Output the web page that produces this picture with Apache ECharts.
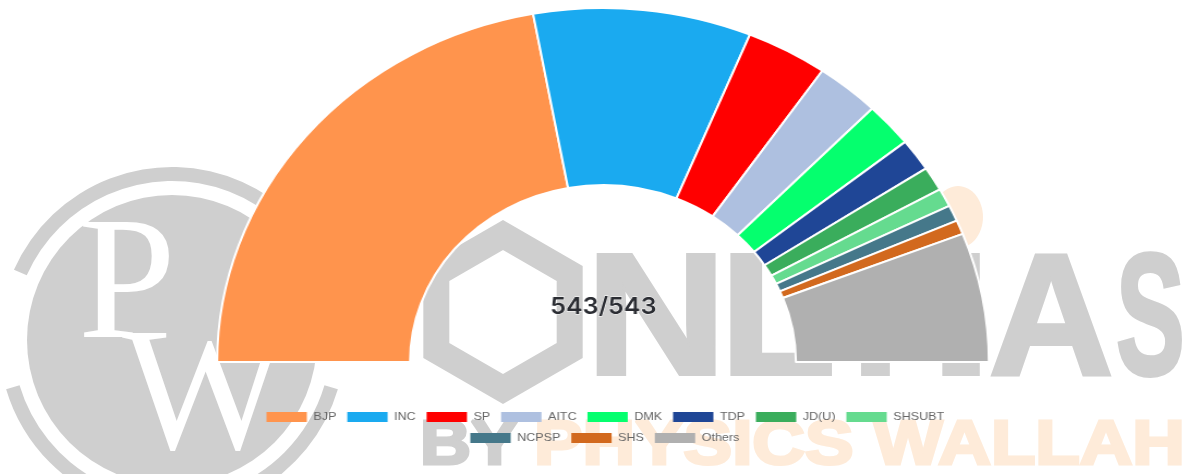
<!DOCTYPE html>
<html>
<head>
<meta charset="utf-8">
<script src="https://cdn.jsdelivr.net/npm/echarts@6/dist/echarts.min.js"></script>
<style>
html,body{margin:0;padding:0;background:#fff;overflow:hidden;}
#watermark{position:absolute;left:0;top:0;width:1192px;height:474px;}
/* the chart in the reference is stretched sideways, the watermark behind it is not */
#chart{position:absolute;left:0;top:0;width:1094px;height:474px;transform:scaleX(1.09);transform-origin:0 0;}
</style>
</head>
<body>
<div id="watermark"></div>
<div id="chart"></div>
<script>
const parties = ['BJP','INC','SP','AITC','DMK','TDP','JD(U)','SHSUBT','NCPSP','SHS','Others'];
const seats = [240,99,37,29,22,16,12,9,8,7,64];
const partyColors = ['#ff944d','#1aaaf0','#ff0000','#aec0e0','#05ff6e','#1f4696','#3aad5c','#65db8f','#45788a','#d2691e','#b0b0b0'];
const centerLabel = '543/543';

const grey = '#cfcfcf';
const peach = '#feebd9';
const deg = Math.PI / 180;

// big letters of the background logo
function mark(text, x, y, size, color, sx, heavy){
  return {type:'text', x:x, y:y, scaleX:sx || 1, silent:true, style:{
    text:text, fill:color, font:'bold ' + size + 'px "Liberation Sans"',
    textVerticalAlign:'bottom', stroke:color, lineWidth:heavy || 0
  }};
}

function hexagon(cx, cy, r){
  let pts = [];
  for(let i = 0; i < 6; i++){
    let a = (i * 60 - 90) * deg;
    pts.push([cx + r * Math.cos(a), cy + r * Math.sin(a)]);
  }
  return pts;
}

const backdrop = [
  {type:'circle', silent:true, shape:{cx:172,cy:340,r:145}, style:{fill:grey}},
  {type:'sector', silent:true, shape:{cx:172,cy:340,r0:159,r:173,startAngle:204*deg,endAngle:336*deg}, style:{fill:grey}},
  {type:'sector', silent:true, shape:{cx:172,cy:340,r0:159,r:173,startAngle:16.5*deg,endAngle:163.5*deg}, style:{fill:grey}},
  {type:'text', silent:true, x:78, y:379, style:{text:'P',fill:'#fff',font:'176px "Liberation Serif"',textVerticalAlign:'bottom'}},
  {type:'text', silent:true, x:122, y:490, style:{text:'W',fill:'#fff',font:'176px "Liberation Serif"',textVerticalAlign:'bottom'}},
  {type:'polygon', silent:true, shape:{points:hexagon(503,312,77)}, style:{fill:'none',stroke:grey,lineWidth:26}},
  mark('N', 586, 413, 172, grey, 1.13, 4),
  mark('L', 720, 413, 172, grey, 1.1, 4),
  mark('Y', 818, 413, 172, grey, 1, 4),
  mark('I', 930, 413, 172, grey, 1.3, 4),
  mark('A', 989, 413, 172, grey, 1, 4),
  mark('S', 1116, 413, 172, grey, 0.6, 4),
  mark('BY', 420, 478, 63, grey, 1.12, 3),
  {type:'ellipse', silent:true, shape:{cx:958,cy:217,rx:25,ry:31}, style:{fill:peach}},
  mark('PHYSICS WALLAH', 534, 478, 63, peach, 1.155, 3)
];

echarts.init(document.getElementById('watermark')).setOption({
  animation:false,
  backgroundColor:'#fff',
  graphic:{elements:backdrop}
});

function legendRow(names, left, top){
  return {
    left:left,
    top:top,
    itemWidth:37,
    itemHeight:10,
    itemGap:10,
    icon:'rect',
    itemStyle:{borderWidth:0},
    textStyle:{fontFamily:'Liberation Sans',fontSize:11.5,color:'#666',padding:[0,0,0,1]},
    data:names
  };
}

const chart = echarts.init(document.getElementById('chart'));
chart.setOption({
  animation:false,
  title:{
    text:centerLabel,
    left:548.5,
    top:291,
    textAlign:'center',
    textStyle:{
      fontFamily:'Inter',
      fontSize:23,
      fontWeight:600,
      color:'#2b2d33',
      textBorderColor:'#fff',
      textBorderWidth:1
    }
  },
  // the second row is centred on its own, so it gets its own legend
  legend:[
    legendRow(parties.slice(0,8), 239.5, 406),
    legendRow(parties.slice(8), 426.5, 427)
  ],
  series:[{
    type:'pie',
    center:[553.2,362],
    radius:[177,354],
    startAngle:180,
    endAngle:360,
    label:{show:false},
    labelLine:{show:false},
    itemStyle:{borderColor:'#fff',borderWidth:2},
    color:partyColors,
    data:parties.map((name,i)=>({name:name,value:seats[i]}))
  }]
});
</script>
</body>
</html>
